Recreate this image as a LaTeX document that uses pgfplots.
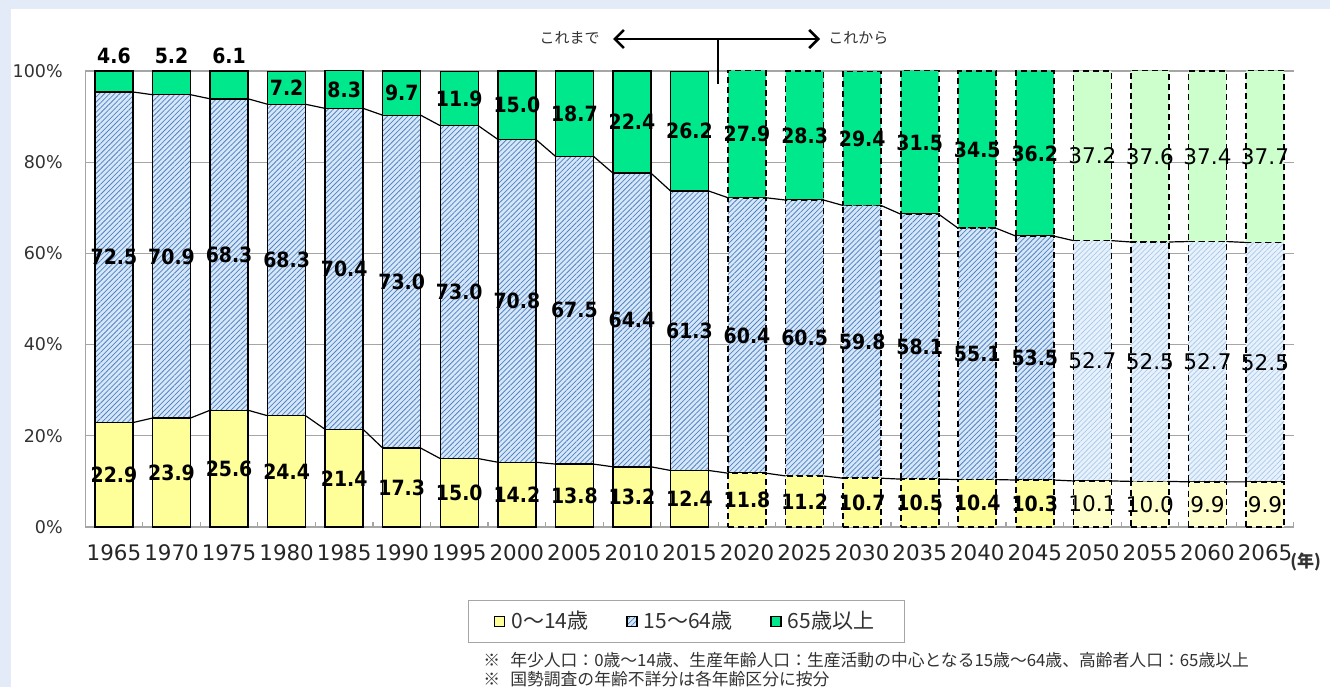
\documentclass[border=0pt]{standalone}
\usepackage{pgfplots}
\pgfplotsset{compat=1.18}
\usepackage{pgfplotstable}
\usetikzlibrary{patterns.meta,arrows.meta}
\usepackage{fontspec}
\setmainfont{DejaVu Sans}
\newfontfamily\cond{DejaVu Sans Condensed}
\newfontfamily\jp{Noto Sans CJK JP}

\definecolor{bgblue}{RGB}{226,235,247}
\definecolor{yel}{RGB}{255,255,153}
\definecolor{yelL}{RGB}{255,255,204}
\definecolor{blu}{RGB}{214,231,248}
\definecolor{bluH}{RGB}{80,130,195}
\definecolor{bluL}{RGB}{232,242,252}
\definecolor{bluLH}{RGB}{172,203,234}
\definecolor{grn}{RGB}{0,232,140}
\definecolor{grnL}{RGB}{204,255,204}
\definecolor{gridc}{RGB}{165,165,165}
\definecolor{txt}{RGB}{50,50,50}

\newcommand\lblb{\cond\bfseries\fontsize{10.5}{12}\selectfont}
\newcommand\lblr{\fontsize{10.8}{12}\selectfont}

\pgfplotstableread{
x a b c
0 22.9 72.5 4.6
1 23.9 70.9 5.2
2 25.6 68.3 6.1
3 24.4 68.3 7.2
4 21.4 70.4 8.3
5 17.3 73.0 9.7
6 15.0 73.0 11.9
7 14.2 70.8 15.0
8 13.8 67.5 18.7
9 13.2 64.4 22.4
10 12.4 61.3 26.2
}\past
\pgfplotstableread{
x a b c
11 11.8 60.4 27.9
12 11.2 60.5 28.3
13 10.7 59.8 29.4
14 10.5 58.1 31.5
15 10.4 55.1 34.5
16 10.3 53.5 36.2
}\near
\pgfplotstableread{
x a b c
17 10.1 52.7 37.2
18 10.0 52.5 37.6
19 9.9 52.7 37.4
20 9.9 52.5 37.7
}\far

\pgfplotsset{
  common/.style={at={(42.6pt,80pt)}, anchor=south west, scale only axis,
    width=604.3pt, height=228pt, xmin=-0.5, xmax=20.5, ymin=0, ymax=100, clip=false},
  sqlegend/.style={legend image code/.code={\draw[##1] (0pt,-2.5pt) rectangle (5pt,2.5pt);}},
  solidb/.style={draw=black, line width=0.7pt},
  dashb/.style={draw=black, line width=0.85pt, dash pattern=on 3pt off 2pt},
  hatchD/.style={fill=blu, postaction={pattern={Lines[angle=45,distance=1.8pt,line width=0.38pt]}, pattern color=bluH}},
  hatchL/.style={fill=bluL, postaction={pattern={Lines[angle=45,distance=1.8pt,line width=0.38pt]}, pattern color=bluLH}},
  lbl/.style={draw=none, mark=none, nodes near coords, point meta=explicit symbolic,
    every node near coord/.append style={anchor=center, inner sep=0pt, text=black, font=#1}},
}

\begin{document}
\begin{tikzpicture}
\useasboundingbox (0,0) rectangle (665pt,343.5pt);
\fill[bgblue] (0,0) rectangle (665pt,343.5pt);
\fill[white] (5.5pt,0) rectangle (665pt,339pt);

% past
\begin{axis}[common,
  ybar stacked, bar width=0.66,
  axis x line*=bottom, axis y line*=left,
  axis line style={draw=gridc, line width=0.6pt, -},
  ytick={0,20,40,60,80,100},
  yticklabels={0\%,20\%,40\%,60\%,80\%,100\%},
  ymajorgrids, grid style={gridc, line width=0.6pt},
  xtick={0,...,20},
  xticklabels={1965,1970,1975,1980,1985,1990,1995,2000,2005,2010,2015,2020,2025,2030,2035,2040,2045,2050,2055,2060,2065},
  minor xtick={-0.5,0.5,...,20.5}, minor ytick={},
  major tick length=0pt, minor tick length=2.5pt, tick align=inside,
  tick style={gridc, line width=0.6pt},
  yticklabel style={font=\fontsize{8.75}{10}\selectfont, text=txt, anchor=east, xshift=-7.7pt},
  xticklabel style={font=\fontsize{10.7}{12}\selectfont, text=black!85, yshift=-5.2pt},
  legend columns=3,
  legend style={at={(0.4971,-0.2072)}, anchor=center, draw=gridc, fill=white,
    inner xsep=13pt, inner ysep=3.5pt, font=\jp\fontsize{10.5}{13}\selectfont, text=txt,
    /tikz/every even column/.append style={column sep=17pt},
    /tikz/every odd column/.append style={column sep=1pt}},
]
\addplot[fill=yel, solidb, sqlegend] table[x=x,y=a]{\past};
\addlegendentry{0～14歳}
\addplot[hatchD, solidb, sqlegend] table[x=x,y=b]{\past};
\addlegendentry{15～64歳}
\addplot[fill=grn, solidb, sqlegend] table[x=x,y=c]{\past};
\addlegendentry{65歳以上}
\end{axis}

% near future
\begin{axis}[common, hide axis, ybar stacked, bar width=0.66]
\addplot[fill=yel, dashb] table[x=x,y=a]{\near};
\addplot[hatchD, dashb] table[x=x,y=b]{\near};
\addplot[fill=grn, dashb] table[x=x,y=c]{\near};
\end{axis}

% far future
\begin{axis}[common, hide axis, ybar stacked, bar width=0.66]
\addplot[fill=yelL, dashb] table[x=x,y=a]{\far};
\addplot[hatchL, dashb] table[x=x,y=b]{\far};
\addplot[fill=grnL, dashb] table[x=x,y=c]{\far};
\end{axis}

% series lines and labels
\begin{axis}[common, hide axis]
\addplot[black, line width=0.6pt, mark=none, unbounded coords=jump] coordinates {
(0.33,22.9)(0.67,23.9)(1,nan)(1.33,23.9)(1.67,25.6)(2,nan)(2.33,25.6)(2.67,24.4)(3,nan)
(3.33,24.4)(3.67,21.4)(4,nan)(4.33,21.4)(4.67,17.3)(5,nan)(5.33,17.3)(5.67,15.0)(6,nan)
(6.33,15.0)(6.67,14.2)(7,nan)(7.33,14.2)(7.67,13.8)(8,nan)(8.33,13.8)(8.67,13.2)(9,nan)
(9.33,13.2)(9.67,12.4)(10,nan)(10.33,12.4)(10.67,11.8)(11,nan)(11.33,11.8)(11.67,11.2)(12,nan)
(12.33,11.2)(12.67,10.7)(13,nan)(13.33,10.7)(13.67,10.5)(14,nan)(14.33,10.5)(14.67,10.4)(15,nan)
(15.33,10.4)(15.67,10.3)(16,nan)(16.33,10.3)(16.67,10.1)(17,nan)(17.33,10.1)(17.67,10.0)(18,nan)
(18.33,10.0)(18.67,9.9)(19,nan)(19.33,9.9)(19.67,9.9)};
\addplot[black, line width=0.6pt, mark=none, unbounded coords=jump] coordinates {
(0.33,95.4)(0.67,94.8)(1,nan)(1.33,94.8)(1.67,93.9)(2,nan)(2.33,93.9)(2.67,92.7)(3,nan)
(3.33,92.7)(3.67,91.8)(4,nan)(4.33,91.8)(4.67,90.3)(5,nan)(5.33,90.3)(5.67,88.0)(6,nan)
(6.33,88.0)(6.67,85.0)(7,nan)(7.33,85.0)(7.67,81.3)(8,nan)(8.33,81.3)(8.67,77.6)(9,nan)
(9.33,77.6)(9.67,73.7)(10,nan)(10.33,73.7)(10.67,72.2)(11,nan)(11.33,72.2)(11.67,71.7)(12,nan)
(12.33,71.7)(12.67,70.5)(13,nan)(13.33,70.5)(13.67,68.6)(14,nan)(14.33,68.6)(14.67,65.5)(15,nan)
(15.33,65.5)(15.67,63.8)(16,nan)(16.33,63.8)(16.67,62.8)(17,nan)(17.33,62.8)(17.67,62.5)(18,nan)
(18.33,62.5)(18.67,62.6)(19,nan)(19.33,62.6)(19.67,62.4)};
% labels
\addplot[lbl=\lblb] table[x=x, y expr=\thisrow{a}/2, meta=a]{\past};
\addplot[lbl=\lblb] table[x=x, y expr=\thisrow{a}+\thisrow{b}/2, meta=b]{\past};
\addplot[lbl=\lblb] table[x=x, y expr={ifthenelse(\coordindex<3,103.3,\thisrow{a}+\thisrow{b}+\thisrow{c}/2)}, meta=c]{\past};
\addplot[lbl=\lblb] table[x=x, y expr=\thisrow{a}/2, meta=a]{\near};
\addplot[lbl=\lblb] table[x=x, y expr=\thisrow{a}+\thisrow{b}/2, meta=b]{\near};
\addplot[lbl=\lblb] table[x=x, y expr=\thisrow{a}+\thisrow{b}+\thisrow{c}/2, meta=c]{\near};
\addplot[lbl=\lblr] table[x=x, y expr=\thisrow{a}/2, meta=a]{\far};
\addplot[lbl=\lblr] table[x=x, y expr=\thisrow{a}+\thisrow{b}/2, meta=b]{\far};
\addplot[lbl=\lblr] table[x=x, y expr=\thisrow{a}+\thisrow{b}+\thisrow{c}/2, meta=c]{\far};
\end{axis}

% annotations
\draw[line width=1.3pt, {Straight Barb[length=4.5pt,width=9pt]}-{Straight Barb[length=4.5pt,width=9pt]}] (306.5pt,324pt) -- (410pt,324pt);
\draw[line width=1.2pt] (359pt,324pt) -- (359pt,301.5pt);
\node[anchor=east, inner sep=0pt, font=\jp\fontsize{7.5}{9}\selectfont, text=txt] at (300pt,324.5pt) {これまで};
\node[anchor=west, inner sep=0pt, font=\jp\fontsize{7.5}{9}\selectfont, text=txt] at (414pt,324.5pt) {これから};
\node[anchor=west, inner sep=0pt, font=\jp\bfseries\fontsize{8.5}{10}\selectfont, text=txt] at (645pt,62.5pt) {(年)};
\node[anchor=west, inner sep=0pt, font=\jp\fontsize{8.4}{10}\selectfont, text=txt] at (241.5pt,13.5pt) {※\hspace{0.6em}年少人口：0歳～14歳、生産年齢人口：生産活動の中心となる15歳～64歳、高齢者人口：65歳以上};
\node[anchor=west, inner sep=0pt, font=\jp\fontsize{8.4}{10}\selectfont, text=txt] at (241.5pt,4pt) {※\hspace{0.6em}国勢調査の年齢不詳分は各年齢区分に按分};
\end{tikzpicture}
\end{document}
